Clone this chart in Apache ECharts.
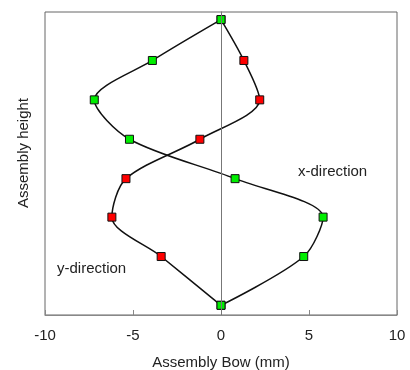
<!DOCTYPE html>
<html>
<head>
<meta charset="utf-8">
<script src="https://cdn.jsdelivr.net/npm/echarts@6/dist/echarts.min.js"></script>
<style>
  html, body { margin: 0; padding: 0; background: #fff; }
  #chart { width: 410px; height: 370px; }
</style>
</head>
<body>
<div id="chart"></div>
<script>
// heights of the measurement levels (axis has no labels, arbitrary 0-100 scale)
const heights = [97.5, 84, 71, 58, 45, 32.3, 19.3, 3.2]
// bow in x-direction (green) and y-direction (red), mm
const xDirection = [0, -3.9, -7.2, -5.2, 0.8, 5.8, 4.7, 0]
const yDirection = [0, 1.3, 2.2, -1.2, -5.4, -6.2, -3.4, 0]
const xTicks = [-10, -5, 0, 5, 10]

const font = 'Liberation Sans, Arial, sans-serif'
const chart = echarts.init(document.getElementById('chart'))

const pairs = (xs) => xs.map((x, i) => [x, heights[i]])

const lineSeries = (name, xs, color) => ({
  name,
  type: 'line',
  data: pairs(xs),
  smooth: 0.3,
  symbol: 'rect',
  symbolSize: 8,
  showAllSymbol: true,
  lineStyle: { color: '#111', width: 1.5 },
  itemStyle: { color, borderColor: '#111', borderWidth: 1 },
  emphasis: { disabled: true },
  z: 3,
})

// y-direction: the shared end points are drawn green (the x series goes on top)
const ySeries = lineSeries('y-direction', yDirection, '#ff0000')
ySeries.markLine = {
  silent: true,
  symbol: 'none',
  label: { show: false },
  lineStyle: { color: '#777', width: 1, type: 'solid' },
  data: [{ xAxis: 0 }],
}

chart.setOption({
  animation: false,
  grid: {
    left: 45, right: 13, top: 12, bottom: 55,
    outerBoundsMode: 'none',
    show: true,
    borderColor: '#666',
    borderWidth: 1,
  },
  xAxis: {
    type: 'value',
    min: xTicks[0],
    max: xTicks[xTicks.length - 1],
    interval: 5,
    name: 'Assembly Bow (mm)',
    nameLocation: 'middle',
    nameGap: 40,
    nameTextStyle: { color: '#222', fontSize: 15, fontFamily: font },
    axisLine: { lineStyle: { color: '#888' } },
    axisTick: { inside: true, length: 5, lineStyle: { color: '#888' } },
    axisLabel: { color: '#222', fontSize: 15, fontFamily: font, margin: 13 },
    splitLine: { show: false },
  },
  yAxis: {
    type: 'value',
    min: 0,
    max: 100,
    axisLine: { show: true, lineStyle: { color: '#666' } },
    axisTick: { show: false },
    axisLabel: { show: false },
    splitLine: { show: false },
  },
  graphic: [
    {
      type: 'text', x: 24, y: 153, rotation: Math.PI / 2,
      style: {
        text: 'Assembly height', fill: '#222', fontSize: 15, fontFamily: font,
        align: 'center', verticalAlign: 'middle',
      },
    },
    {
      type: 'text', left: 298, top: 164,
      style: { text: 'x-direction', fill: '#222', fontSize: 15, fontFamily: font },
    },
    {
      type: 'text', left: 57, top: 261,
      style: { text: 'y-direction', fill: '#222', fontSize: 15, fontFamily: font },
    },
  ],
  series: [
    ySeries,
    lineSeries('x-direction', xDirection, '#00ee00'),
  ],
})
</script>
</body>
</html>
